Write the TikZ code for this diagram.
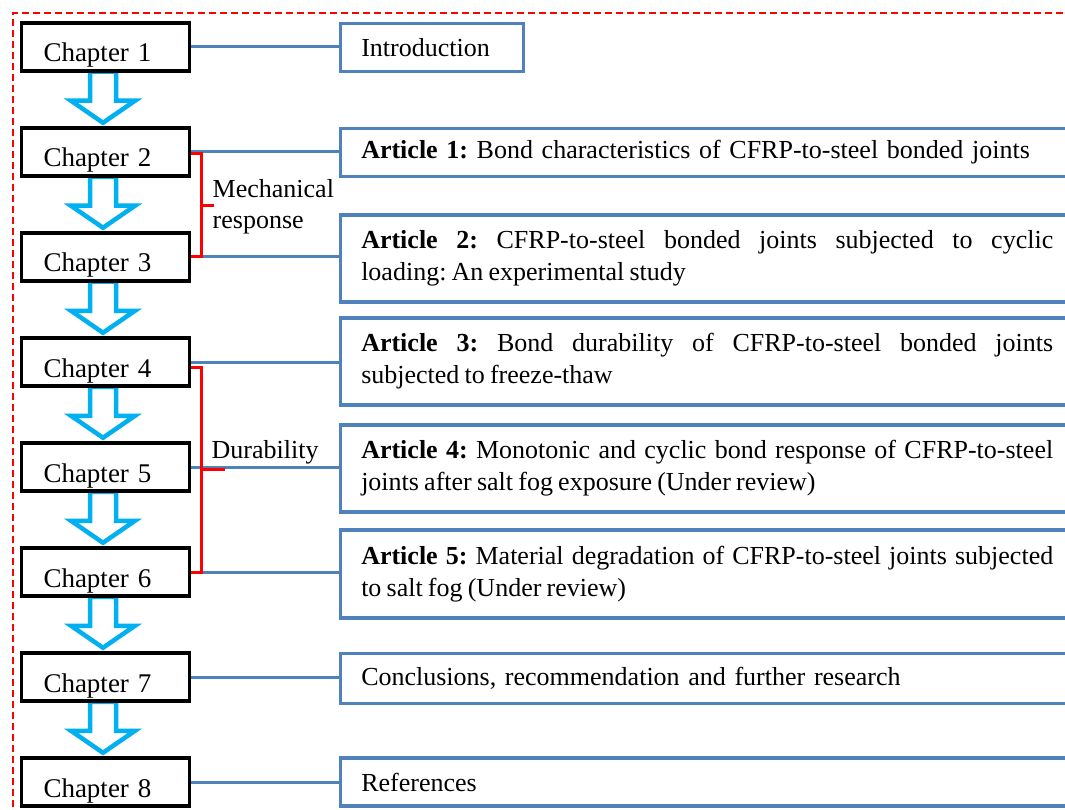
\documentclass[tikz,border=0pt]{standalone}
\usepackage{fontspec}
\setmainfont{Liberation Serif}
\usetikzlibrary{calc}
\definecolor{boxblue}{RGB}{79,129,189}
\definecolor{arrblue}{RGB}{0,176,240}
\definecolor{brred}{RGB}{255,0,0}
\pgfdeclarelayer{bg}
\pgfsetlayers{bg,main}
\frenchspacing
\newcommand{\tightsp}{\frenchspacing\spaceskip=0.2em plus 0.3em minus 0.05em\relax}
\begin{document}
\begin{tikzpicture}[x=1pt,y=-1pt,
  chap/.style={draw=black, line width=3.5pt, fill=white, minimum height=48pt,
    text width=124pt, inner xsep=22pt, inner ysep=0pt, text height=39pt,
    text depth=9pt, align=left, font=\fontsize{27}{32}\selectfont\tightsp},
  rbox/.style={draw=boxblue, line width=3.5pt, fill=white, inner xsep=21pt,
    inner ysep=0pt, text width=692pt, anchor=west,
    font=\fontsize{26}{32}\selectfont\tightsp},
  artbox/.style={rbox, align=justify, minimum height=87pt},
  onebox/.style={rbox, align=left, minimum height=48pt},
  conn/.style={draw=boxblue, line width=3pt},
  brk/.style={draw=brred, line width=3pt},
  blockarrow/.style={draw=arrblue, line width=4.5pt, fill=white, line join=miter},
  lbl/.style={align=left, anchor=west, inner sep=0pt, font=\fontsize{26}{31}\selectfont\tightsp}
]
\useasboundingbox (0,0) rectangle (1065,810);
\clip (0,0) rectangle (1065,810);

% dashed frame
\draw[brred, line width=2pt, dash pattern=on 7pt off 4pt] (13,840) -- (13,13) -- (1100,13);

% chapter boxes
\foreach \i in {1,...,8}{
  \node[chap] (c\i) at (105.5,{47+105*(\i-1)}) {Chapter \i};
}

% right boxes
\node[onebox, text width=141pt] (intro) at (338.5,47.5) {Introduction};
\node[onebox] (a1) at (338.5,152.5) {\textbf{Article 1:} Bond characteristics of CFRP-to-steel bonded joints};
\node[artbox] (a2) at (338.5,258.5) {\textbf{Article 2:} CFRP-to-steel bonded joints subjected to cyclic\linebreak loading: An experimental study};
\node[artbox] (a3) at (338.5,361.5) {\textbf{Article 3:} Bond durability of CFRP-to-steel bonded joints\linebreak subjected to freeze-thaw};
\node[artbox] (a4) at (338.5,468.5) {\textbf{Article 4:} Monotonic and cyclic bond response of CFRP-to-steel\linebreak joints after salt fog exposure (Under review)};
\node[artbox, minimum height=88pt] (a5) at (338.5,574) {\textbf{Article 5:} Material degradation of CFRP-to-steel joints subjected\linebreak to salt fog (Under review)};
\node[onebox, minimum height=50pt] (r7) at (338.5,678.5) {Conclusions, recommendation and further research};
\node[onebox] (r8) at (338.5,782) {References};

% block arrows between chapters
\begin{pgfonlayer}{bg}
\foreach \i in {1,...,7}{
  \coordinate (s\i) at ($(c\i.south)+(-2.5,0)$);
  \draw[blockarrow] ($(s\i)+(-13,-1)$) -- ($(s\i)+(13,-1)$) -- ($(s\i)+(13,28)$)
     -- ($(s\i)+(32,28)$) -- ($(s\i)+(0,50)$) -- ($(s\i)+(-32,28)$)
     -- ($(s\i)+(-13,28)$) -- cycle;
}
\end{pgfonlayer}

% connectors
\draw[conn] (c1.east) -- (c1.east -| intro.west);
\draw[conn] (c2.east) -- (c2.east -| a1.west);
\draw[conn] (c3.east) -- (c3.east -| a2.west);
\draw[conn] (c4.east) -- (c4.east -| a3.west);
\draw[conn] (c5.east) -- (c5.east -| a4.west);
\draw[conn] (c6.east) -- (c6.east -| a5.west);
\draw[conn] (c7.east) -- (c7.east -| r7.west);
\draw[conn] (c8.east) -- (c8.east -| r8.west);

% brackets
\coordinate (m1) at ([yshift=-2pt]c2.east);
\coordinate (m2) at (c3.east);
\draw[brk] (m1) -- ++(10.5,0) coordinate (m1r) |- (m2);
\draw[brk] ($(m1r)!0.5!(m1r |- m2)$) -- ++(12,0);

\coordinate (d1) at ([yshift=-5pt]c4.east);
\coordinate (d2) at (c6.east);
\draw[brk] (d1) -- ++(10.5,0) coordinate (d1r) |- (d2);
\draw[brk] ($(d1r)!0.5!(d1r |- d2)$) -- ++(23,0);

% labels
\node[lbl] (mech) at (212.5,207) {Mechanical\\response};
\node[lbl] (dur) at (211.5,452) {Durability};
\end{tikzpicture}
\end{document}
